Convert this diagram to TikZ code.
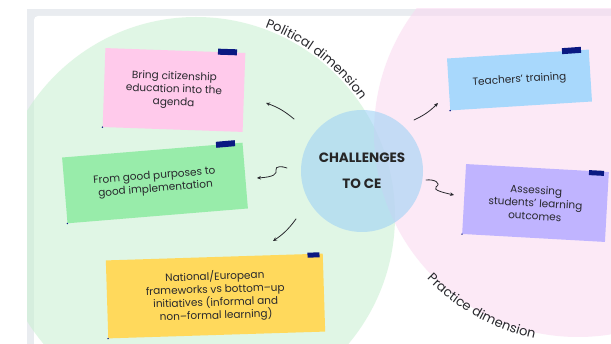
\documentclass[tikz,border=0pt]{standalone}
\usepackage{fontspec}
\setmainfont{Poppins}
\usetikzlibrary{arrows.meta,decorations.text,calc}

\definecolor{framegray}{RGB}{233,236,240}
\definecolor{ringgreen}{RGB}{200,240,208}
\definecolor{ringpink}{RGB}{250,215,240}
\definecolor{coreblue}{RGB}{160,210,245}
\definecolor{notepink}{RGB}{255,202,235}
\definecolor{notegreen}{RGB}{152,236,170}
\definecolor{noteyellow}{RGB}{255,217,92}
\definecolor{noteblue}{RGB}{168,216,252}
\definecolor{notepurple}{RGB}{192,180,255}
\definecolor{tapeblue}{RGB}{10,25,130}
\definecolor{inkgray}{RGB}{40,40,45}

\newcommand{\rimfont}{\fontsize{13}{15}\selectfont\color{inkgray}}

\begin{document}
\begin{tikzpicture}[x=1pt,y=1pt,
  note/.style={inner sep=0pt, align=center, text=inkgray,
               font=\fontsize{10.5}{13}\selectfont},
  tape/.style={fill=tapeblue, minimum width=19pt, minimum height=6pt, inner sep=0pt},
  pin/.style={fill=tapeblue, circle, inner sep=0pt, minimum size=1.6pt},
  flow/.style={draw=inkgray, line width=0.8pt, line cap=round,
               -{Stealth[length=4pt,width=3.6pt]}}
]
\useasboundingbox (0,0) rectangle (611,-344);
\clip (0,0) rectangle (611,-344);

% board frame
\fill[framegray] (27,-9) rectangle (640,-370);
\fill[white, rounded corners=4pt] (34,-16) rectangle (650,-380);

% the two dimension discs, kept inside the board
\coordinate (gc) at (196,-216);
\coordinate (pc) at (578,-133);
\begin{scope}
  \clip (27,-9) rectangle (640,-370);
  \fill[ringgreen, fill opacity=0.55] (gc) circle[radius=199];
  \fill[ringpink, fill opacity=0.55] (pc) circle[radius=204];
\end{scope}

% labels following the disc rims
\path[decorate, decoration={text along path, text align=center,
      text={|\rimfont|Political dimension}}]
  ($(gc)+(80:201)$) arc[start angle=80, end angle=25, radius=201];
\path[decorate, decoration={text along path, text align=center,
      text={|\rimfont|Practice dimension}}]
  ($(pc)+(214:210)$) arc[start angle=214, end angle=268, radius=210];

% central topic
\node[circle, fill=coreblue, fill opacity=0.6, text opacity=1, minimum size=122pt,
      inner sep=0pt, align=center, text=black!85,
      font=\bfseries\fontsize{13.5}{26}\selectfont] (core) at (362,-171) {CHALLENGES\\TO CE};

% sticky notes
\node[note, fill=notepink, minimum width=140pt, minimum height=79pt, rotate=-2]
  (agenda) at (174,-90) {Bring citizenship\\education into the\\agenda};
\node[note, fill=notegreen, minimum width=181pt, minimum height=66pt, rotate=4.7]
  (purposes) at (155,-183) {From good purposes to\\good implementation};
\node[note, fill=noteyellow, minimum width=217pt, minimum height=78pt, rotate=1.8]
  (frameworks) at (215.5,-296) {National/European\\frameworks vs bottom--up\\initiatives (informal and\\non--formal learning)};
\node[note, fill=noteblue, minimum width=142pt, minimum height=52pt, rotate=3.6]
  (training) at (519.5,-80) {Teachers' training};
\node[note, fill=notepurple, minimum width=143pt, minimum height=70pt, rotate=-3.2]
  (assessing) at (535.5,-203) {Assessing\\students' learning\\outcomes};

% tape strips
\node[tape, rotate=-2] (tapeA) at (227.5,-52) {};
\node[tape, rotate=5] (tapeB) at (225.5,-144) {};
\node[tape, rotate=2, minimum width=12pt, minimum height=5pt] (tapeC) at (313.5,-255) {};
\node[tape, rotate=4] (tapeD) at (571.5,-50.5) {};
\node[tape, rotate=-3, minimum width=15pt, minimum height=5pt] (tapeE) at (596.5,-173) {};

% pin dots
\node[pin] (pinA) at (agenda.south west) {};
\node[pin] (pinB) at (purposes.south west) {};
\node[pin] (pinC) at (frameworks.south west) {};
\node[pin] (pinD) at (training.south west) {};
\node[pin] (pinE) at (assessing.south west) {};

% hand drawn arrows
\coordinate (a1s) at (294,-119);  \coordinate (a1e) at (266,-103);
\coordinate (a2s) at (287,-168);  \coordinate (a2e) at (257,-178);
\coordinate (a3s) at (296,-219);  \coordinate (a3e) at (273,-241);
\coordinate (a4s) at (414,-120);  \coordinate (a4e) at (438,-103);
\coordinate (a5s) at (426,-180);  \coordinate (a5e) at (454,-195);

\draw[flow] (a1s) to[bend right=10] (a1e);
\draw[flow] (a2s) .. controls (282,-166) and (275,-166) .. (276,-170)
                  .. controls (277,-174) and (274,-177) .. (a2e);
\draw[flow] (a3s) to[bend left=10] (a3e);
\draw[flow] (a4s) to[bend right=10] (a4e);
\draw[flow] (a5s) .. controls (434,-179) and (442,-183) .. (436,-187)
                  .. controls (432,-190) and (445,-193) .. (a5e);
\end{tikzpicture}
\end{document}
